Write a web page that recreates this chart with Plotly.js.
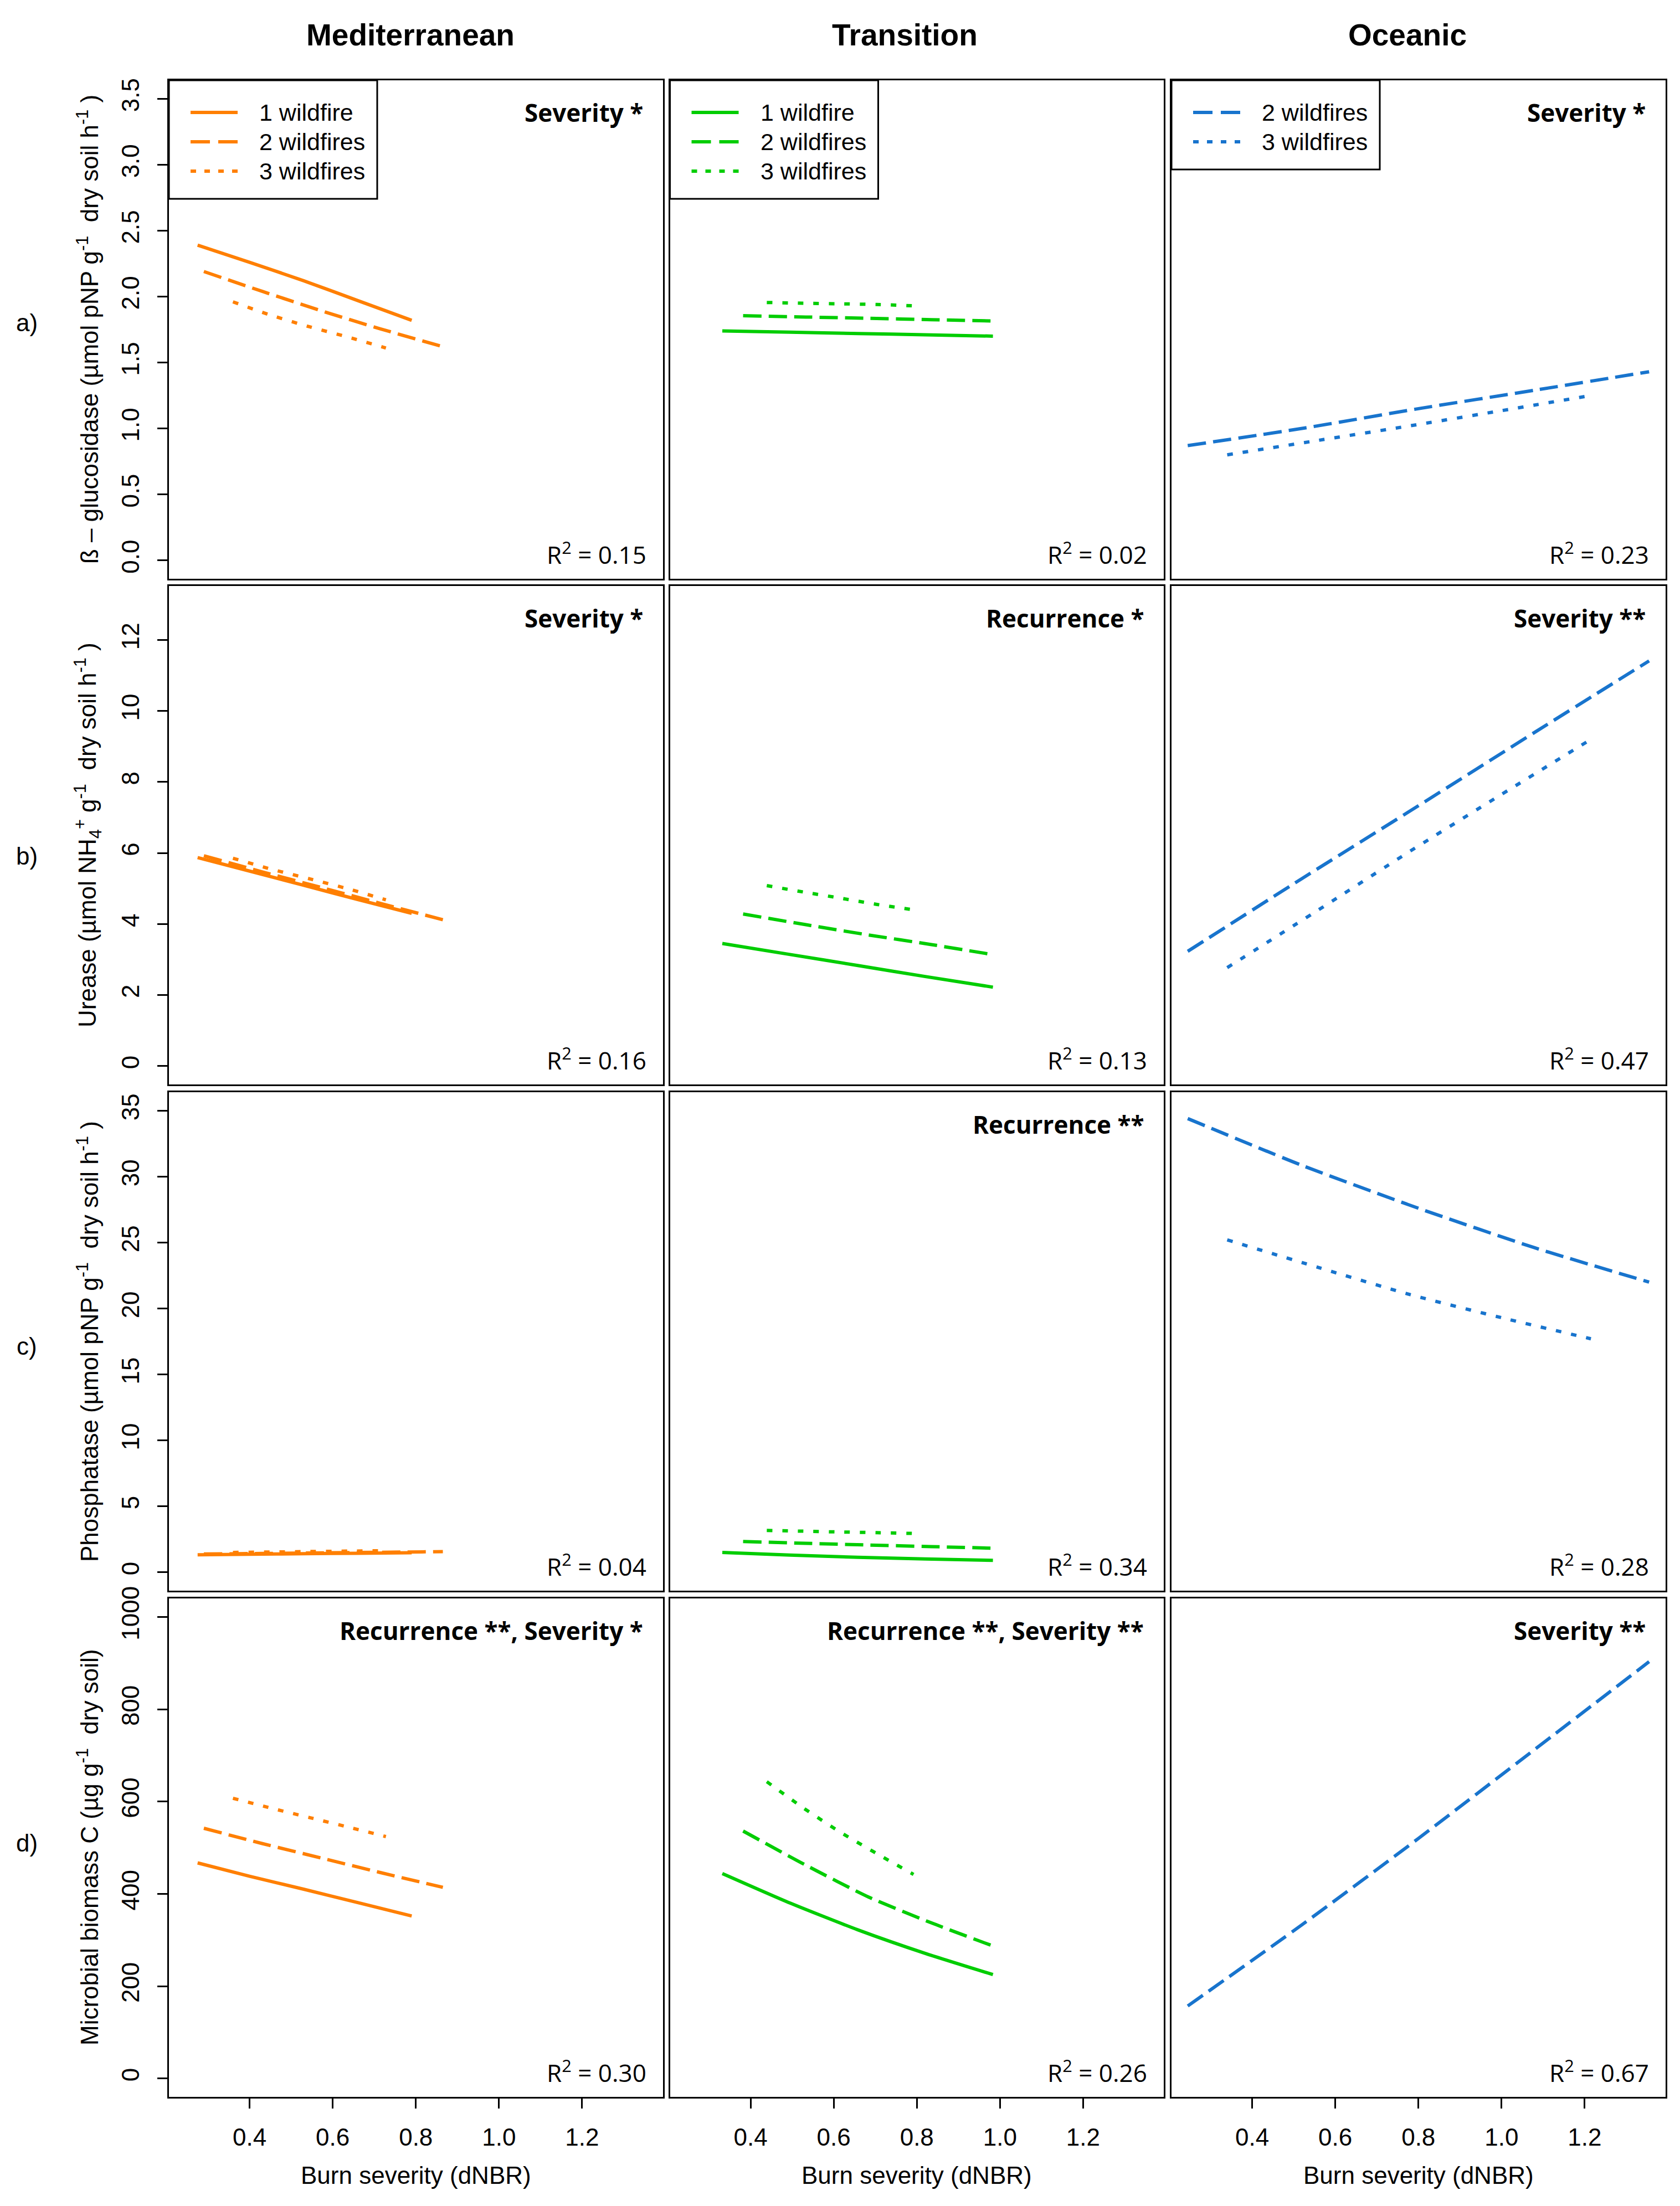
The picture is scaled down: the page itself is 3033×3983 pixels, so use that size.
<!DOCTYPE html>
<html><head><meta charset="utf-8">
<script src="https://cdn.plot.ly/plotly-3.0.1.min.js"></script>
<style>html,body{margin:0;padding:0;background:#fff}</style>
</head><body><div id="chart" style="width:3033px;height:3983px"></div>
<script>
// ---------- labels ----------
const regions = ['Mediterranean', 'Transition', 'Oceanic'];
const rowLetters = ['a)', 'b)', 'c)', 'd)'];
const seriesNames = ['1 wildfire', '2 wildfires', '3 wildfires'];
const yTitles = [
  'ß – glucosidase (µmol pNP g<sup>-1</sup>  dry soil h<sup>-1</sup> )',
  'Urease (µmol NH<sub>4</sub><sup>+</sup> g<sup>-1</sup>  dry soil h<sup>-1</sup> )',
  'Phosphatase (µmol pNP g<sup>-1</sup>  dry soil h<sup>-1</sup> )',
  'Microbial biomass C (µg g<sup>-1</sup>  dry soil)'
];
const xTitle = 'Burn severity (dNBR)';
const sigLabels = [
  ['Severity *', '', 'Severity *'],
  ['Severity *', 'Recurrence *', 'Severity **'],
  ['', 'Recurrence **', ''],
  ['Recurrence **, Severity *', 'Recurrence **, Severity **', 'Severity **']
];
const r2Values = [
  ['0.15', '0.02', '0.23'],
  ['0.16', '0.13', '0.47'],
  ['0.04', '0.34', '0.28'],
  ['0.30', '0.26', '0.67']
];

// ---------- axes ----------
const xTicks = [0.4, 0.6, 0.8, 1.0, 1.2];
const xTickText = ['0.4', '0.6', '0.8', '1.0', '1.2'];
const xLimits = [0.25, 1.35];
const yTicks = [
  [0, 0.5, 1, 1.5, 2, 2.5, 3, 3.5],
  [0, 2, 4, 6, 8, 10, 12],
  [0, 5, 10, 15, 20, 25, 30, 35],
  [0, 200, 400, 600, 800, 1000]
];
const yTickText = [
  ['0.0', '0.5', '1.0', '1.5', '2.0', '2.5', '3.0', '3.5'],
  ['0', '2', '4', '6', '8', '10', '12'],
  ['0', '5', '10', '15', '20', '25', '30', '35'],
  ['0', '200', '400', '600', '800', '1000']
];
const yLimits = [[0, 3.5], [0, 13], [0, 35], [0, 1000]];

// ---------- burn severity (dNBR) of fitted lines ----------
const xMed1 = [0.275, 0.40, 0.53, 0.66, 0.79];
const xMed2 = [0.29, 0.43, 0.575, 0.715, 0.865];
const xMed3 = [0.36, 0.45, 0.545, 0.64, 0.728];
const xTra1 = [0.332, 0.495, 0.658, 0.82, 0.983];
const xTra2 = [0.382, 0.533, 0.684, 0.835, 0.986];
const xTra3 = [0.439, 0.527, 0.615, 0.704, 0.792];
const xOce2 = [0.245, 0.52, 0.80, 1.08, 1.355];
const xOce3 = [0.34, 0.56, 0.78, 1.0, 1.215];

// a) beta-glucosidase
const gluMed1 = [2.39, 2.26, 2.12, 1.97, 1.82];
const gluMed2 = [2.19, 2.04, 1.89, 1.755, 1.62];
const gluMed3 = [1.96, 1.86, 1.77, 1.69, 1.61];
const gluTra1 = [1.74, 1.73, 1.72, 1.71, 1.70];
const gluTra2 = [1.855, 1.845, 1.835, 1.825, 1.815];
const gluTra3 = [1.955, 1.95, 1.945, 1.94, 1.93];
const gluOce2 = [0.87, 1.0, 1.15, 1.29, 1.43];
const gluOce3 = [0.80, 0.91, 1.02, 1.135, 1.25];

// b) urease
const ureMed1 = [5.87, 5.49, 5.09, 4.69, 4.30];
const ureMed2 = [5.92, 5.47, 5.02, 4.58, 4.12];
const ureMed3 = [5.85, 5.55, 5.27, 4.98, 4.68];
const ureTra1 = [3.45, 3.14, 2.83, 2.52, 2.22];
const ureTra2 = [4.28, 3.98, 3.69, 3.42, 3.13];
const ureTra3 = [5.08, 4.90, 4.73, 4.55, 4.40];
const ureOce2 = [3.23, 5.28, 7.33, 9.40, 11.41];
const ureOce3 = [2.77, 4.40, 6.05, 7.65, 9.20];

// c) phosphatase
const phoMed1 = [1.32, 1.36, 1.40, 1.44, 1.48];
const phoMed2 = [1.38, 1.42, 1.47, 1.51, 1.56];
const phoMed3 = [1.50, 1.53, 1.57, 1.60, 1.63];
const phoTra1 = [1.50, 1.30, 1.13, 1.00, 0.90];
const phoTra2 = [2.33, 2.19, 2.06, 1.94, 1.82];
const phoTra3 = [3.17, 3.11, 3.05, 3.00, 2.94];
const phoOce2 = [34.4, 30.85, 27.6, 24.6, 22.0];
const phoOce3 = [25.2, 23.1, 21.05, 19.3, 17.7];

// d) microbial biomass C
const mbcMed1 = [467, 438, 410, 381, 352];
const mbcMed2 = [542, 509, 477, 446, 414];
const mbcMed3 = [607, 586, 565, 544, 524];
const mbcTra1 = [444, 380, 322, 271, 225];
const mbcTra2 = [536, 462, 393, 337, 286];
const mbcTra3 = [643, 586, 534, 487, 442];
const mbcOce2 = [157, 333, 520, 713, 903];

// which lines go in which panel: [x, y, wildfire group index]
const panelLines = [
  [[[xMed1, gluMed1, 0], [xMed2, gluMed2, 1], [xMed3, gluMed3, 2]],
   [[xTra1, gluTra1, 0], [xTra2, gluTra2, 1], [xTra3, gluTra3, 2]],
   [[xOce2, gluOce2, 1], [xOce3, gluOce3, 2]]],
  [[[xMed1, ureMed1, 0], [xMed2, ureMed2, 1], [xMed3, ureMed3, 2]],
   [[xTra1, ureTra1, 0], [xTra2, ureTra2, 1], [xTra3, ureTra3, 2]],
   [[xOce2, ureOce2, 1], [xOce3, ureOce3, 2]]],
  [[[xMed1, phoMed1, 0], [xMed2, phoMed2, 1], [xMed3, phoMed3, 2]],
   [[xTra1, phoTra1, 0], [xTra2, phoTra2, 1], [xTra3, phoTra3, 2]],
   [[xOce2, phoOce2, 1], [xOce3, phoOce3, 2]]],
  [[[xMed1, mbcMed1, 0], [xMed2, mbcMed2, 1], [xMed3, mbcMed3, 2]],
   [[xTra1, mbcTra1, 0], [xTra2, mbcTra2, 1], [xTra3, mbcTra3, 2]],
   [[xOce2, mbcOce2, 1]]]
];
const legendGroups = [[0, 1, 2], [0, 1, 2], [1, 2]];

// ---------- style ----------
const regionColors = ['#FF7F00', '#00CD00', '#1874CD'];
const dashes = ['solid', '33px,13px', '10px,18px'];
const legendDashes = ['solid', '35px,15px', '10px,15px'];
const W = 3033, H = 3983;
const colLeft = [305, 1209.5, 2115];
const rowTop = [145, 1058, 1972, 2886];
const PW = 891.5, PH = 900;
const colTitleX = [741, 1633, 2541];
const rowLabelY = [582, 1545, 2430, 3327];
const ARIAL = 'Liberation Sans, Arial, sans-serif';
const CALIBRI = 'Open Sans, Noto Sans, sans-serif';
const px = v => v / W;
const py = v => 1 - v / H;
const expand = (lim) => { const d = (lim[1] - lim[0]) * 0.04; return [lim[0] - d, lim[1] + d]; };

const traces = [];
const layout = {
  width: W, height: H,
  margin: {l: 0, r: 0, t: 0, b: 0},
  paper_bgcolor: '#ffffff', plot_bgcolor: '#ffffff',
  showlegend: false,
  font: {family: ARIAL, size: 44, color: '#000'},
  annotations: [], shapes: []
};

for (let r = 0; r < 4; r++) {
  for (let c = 0; c < 3; c++) {
    const idx = r * 3 + c + 1;
    const sfx = idx === 1 ? '' : String(idx);
    const L = colLeft[c], T = rowTop[r];
    layout['xaxis' + sfx] = {
      domain: [px(L), px(L + PW)], anchor: 'y' + sfx,
      range: expand(xLimits), showgrid: false, zeroline: false,
      showline: true, mirror: true, linecolor: '#000', linewidth: 3,
      ticks: r === 3 ? 'outside' : '', ticklen: 18, tickwidth: 3, tickcolor: '#000',
      tickvals: xTicks, ticktext: xTickText, showticklabels: r === 3,
      tickfont: {family: ARIAL, size: 44, color: '#000'}, ticklabelstandoff: 14,
      fixedrange: true
    };
    layout['yaxis' + sfx] = {
      domain: [py(T + PH), py(T)], anchor: 'x' + sfx,
      range: expand(yLimits[r]), showgrid: false, zeroline: false,
      showline: true, mirror: true, linecolor: '#000', linewidth: 3,
      ticks: c === 0 ? 'outside' : '', ticklen: 18, tickwidth: 3, tickcolor: '#000',
      tickvals: yTicks[r], ticktext: yTickText[r], showticklabels: c === 0,
      tickangle: -90, tickfont: {family: ARIAL, size: 44, color: '#000'}, ticklabelstandoff: 15,
      fixedrange: true
    };
    panelLines[r][c].forEach(([xs, ys, g]) => {
      traces.push({
        type: 'scatter', mode: 'lines', x: xs, y: ys,
        xaxis: 'x' + sfx, yaxis: 'y' + sfx, name: seriesNames[g],
        line: {color: regionColors[c], width: 6, dash: dashes[g], shape: 'spline', smoothing: 0.6},
        hoverinfo: 'skip', showlegend: false
      });
    });
    if (sigLabels[r][c]) {
      layout.annotations.push({
        xref: 'paper', yref: 'paper', x: px(L + PW - 34), y: py(T + 58),
        xanchor: 'right', yanchor: 'middle', showarrow: false,
        text: '<b>' + sigLabels[r][c] + '</b>',
        font: {family: CALIBRI, size: 44, color: '#000'}
      });
    }
    layout.annotations.push({
      xref: 'paper', yref: 'paper', x: px(L + PW - 28), y: py(T + PH - 46),
      xanchor: 'right', yanchor: 'middle', showarrow: false,
      text: 'R<sup>2</sup> = ' + r2Values[r][c],
      font: {family: CALIBRI, size: 44, color: '#000'}
    });
    if (r === 3) {
      layout.annotations.push({
        xref: 'paper', yref: 'paper', x: px(L + PW / 2), y: py(3927),
        xanchor: 'center', yanchor: 'middle', showarrow: false,
        text: xTitle, font: {family: ARIAL, size: 44, color: '#000'}
      });
    }
  }
  layout.annotations.push({
    xref: 'paper', yref: 'paper', x: px(158), y: py(rowTop[r] + PH / 2),
    xanchor: 'center', yanchor: 'middle', showarrow: false, textangle: -90,
    text: yTitles[r], font: {family: ARIAL, size: 44, color: '#000'}
  });
  layout.annotations.push({
    xref: 'paper', yref: 'paper', x: px(48), y: py(rowLabelY[r]),
    xanchor: 'center', yanchor: 'middle', showarrow: false,
    text: rowLetters[r], font: {family: ARIAL, size: 44, color: '#000'}
  });
}

// column titles
regions.forEach((name, c) => {
  layout.annotations.push({
    xref: 'paper', yref: 'paper', x: px(colTitleX[c]), y: py(63),
    xanchor: 'center', yanchor: 'middle', showarrow: false,
    text: '<b>' + name + '</b>', font: {family: ARIAL, size: 55, color: '#000'}
  });
});

// legends in the top row
legendGroups.forEach((groups, c) => {
  const L = colLeft[c], T = rowTop[0];
  const boxH = 214 - (3 - groups.length) * 53;
  layout.shapes.push({
    type: 'rect', xref: 'paper', yref: 'paper',
    x0: px(L), x1: px(L + 376), y0: py(T + boxH), y1: py(T),
    line: {color: '#000', width: 3}, fillcolor: 'rgba(0,0,0,0)'
  });
  groups.forEach((g, i) => {
    const yy = T + 58 + i * 53;
    layout.shapes.push({
      type: 'line', xref: 'paper', yref: 'paper',
      x0: px(L + 39), x1: px(L + 124), y0: py(yy), y1: py(yy),
      line: {color: regionColors[c], width: 6, dash: legendDashes[g]}
    });
    layout.annotations.push({
      xref: 'paper', yref: 'paper', x: px(L + 161), y: py(yy),
      xanchor: 'left', yanchor: 'middle', showarrow: false,
      text: seriesNames[g], font: {family: ARIAL, size: 43, color: '#000'}
    });
  });
});

Plotly.newPlot('chart', traces, layout, {staticPlot: true, displayModeBar: false});
</script>
</body></html>
